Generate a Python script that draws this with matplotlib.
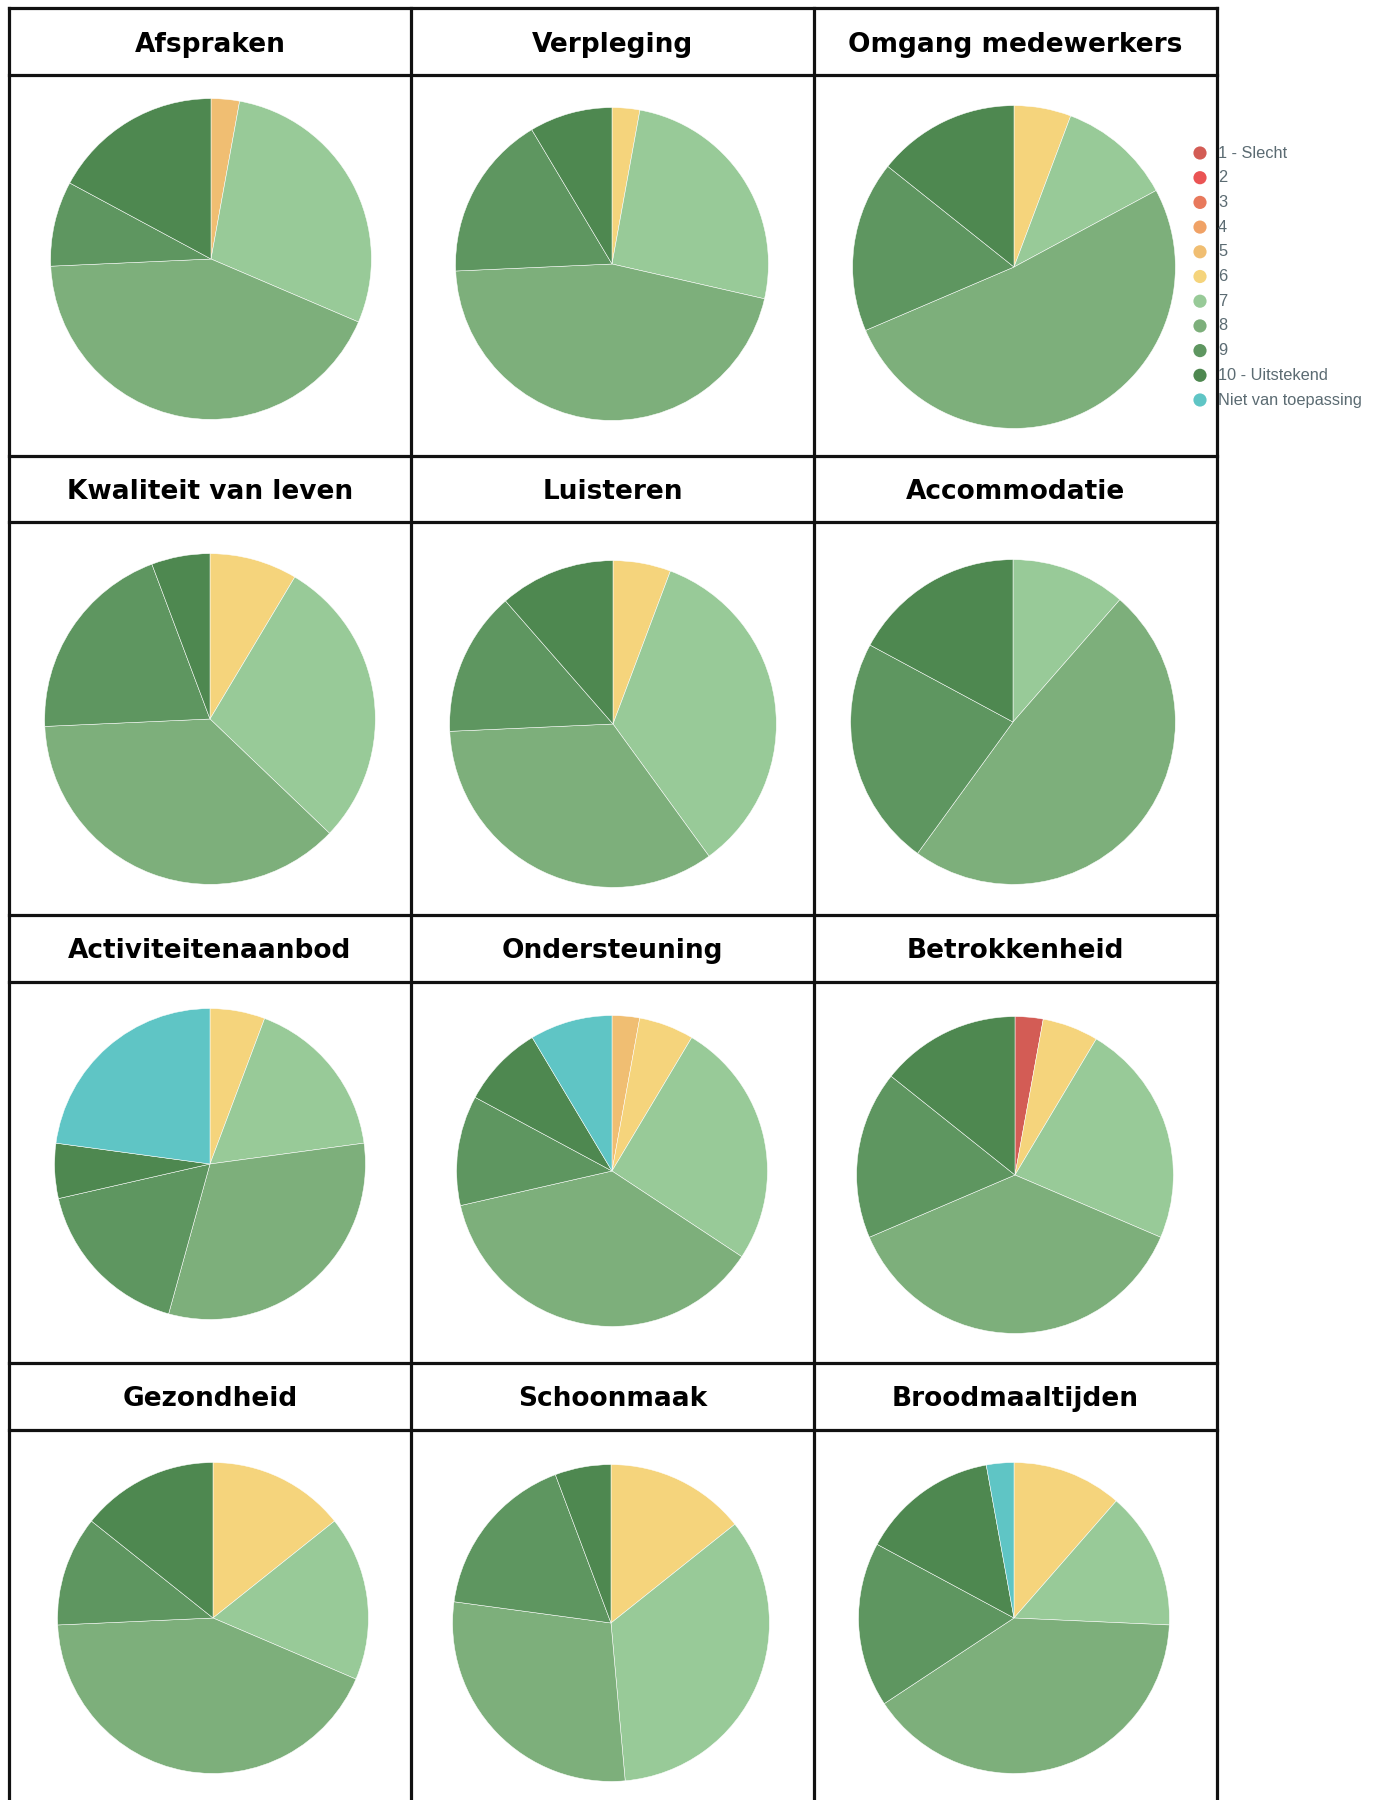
import matplotlib.pyplot as plt
from matplotlib.lines import Line2D

# answer categories (legend order = slice order, clockwise from 12 o'clock)
scores = ['1 - Slecht', '2', '3', '4', '5', '6', '7', '8', '9',
          '10 - Uitstekend', 'Niet van toepassing']
score_colors = ['#d35c55', '#ea5454', '#e8795c', '#f0a266', '#f0be72',
                '#f5d47c', '#98ca98', '#7daf7b', '#5e9660', '#4e8850',
                '#5fc5c5']

topics = ['Afspraken', 'Verpleging', 'Omgang medewerkers',
          'Kwaliteit van leven', 'Luisteren', 'Accommodatie',
          'Activiteitenaanbod', 'Ondersteuning', 'Betrokkenheid',
          'Gezondheid', 'Schoonmaak', 'Broodmaaltijden']

# number of answers per score           1  2  3  4  5  6  7   8   9 10 NvT
afspraken           = [0, 0, 0, 0, 1, 0, 10, 15, 3, 6, 0]
verpleging          = [0, 0, 0, 0, 0, 1, 9, 16, 6, 3, 0]
omgang_medewerkers  = [0, 0, 0, 0, 0, 2, 4, 18, 6, 5, 0]
kwaliteit_van_leven = [0, 0, 0, 0, 0, 3, 10, 13, 7, 2, 0]
luisteren           = [0, 0, 0, 0, 0, 2, 12, 12, 5, 4, 0]
accommodatie        = [0, 0, 0, 0, 0, 0, 4, 17, 8, 6, 0]
activiteitenaanbod  = [0, 0, 0, 0, 0, 2, 6, 11, 6, 2, 8]
ondersteuning       = [0, 0, 0, 0, 1, 2, 9, 13, 4, 3, 3]
betrokkenheid       = [1, 0, 0, 0, 0, 2, 8, 13, 6, 5, 0]
gezondheid          = [0, 0, 0, 0, 0, 5, 6, 15, 4, 5, 0]
schoonmaak          = [0, 0, 0, 0, 0, 5, 12, 10, 6, 2, 0]
broodmaaltijden     = [0, 0, 0, 0, 0, 4, 5, 14, 6, 5, 1]

counts = [afspraken, verpleging, omgang_medewerkers, kwaliteit_van_leven,
          luisteren, accommodatie, activiteitenaanbod, ondersteuning,
          betrokkenheid, gezondheid, schoonmaak, broodmaaltijden]

# layout in pixels
W, H = 1378, 1800
col_x = [9, 411, 814, 1217]
head_top = [8, 456, 915, 1363]
head_bot = [75, 522, 982, 1430]
pie_cx = [211, 612, 1014, 210, 613, 1013, 210, 612, 1015, 213, 611, 1014]
pie_cy = [259, 264, 267, 719, 724, 722, 1164, 1171, 1175, 1618, 1623, 1618]
pie_r = [162, 158, 163, 167, 165, 164, 157, 157, 160, 157, 160, 157]

fig = plt.figure(figsize=(W / 100, H / 100), dpi=100)
fig.patch.set_facecolor('white')

# overlay axes in pixel coordinates for grid, titles and legend
bg = fig.add_axes([0, 0, 1, 1])
bg.set_xlim(0, W)
bg.set_ylim(H, 0)
bg.axis('off')

for i, topic in enumerate(topics):
    r, c = divmod(i, 3)
    cx = (col_x[c] + col_x[c + 1]) / 2
    bg.text(cx, (head_top[r] + head_bot[r]) / 2 + 3, topic,
            ha='center', va='center', fontsize=19, fontweight='bold',
            family='DejaVu Sans', color='black')

    px, py, rad = pie_cx[i], pie_cy[i], pie_r[i]
    ax = fig.add_axes([(px - rad) / W, 1 - (py + rad) / H,
                       2 * rad / W, 2 * rad / H])
    vals = [v for v in counts[i] if v > 0]
    cols = [score_colors[k] for k, v in enumerate(counts[i]) if v > 0]
    ax.pie(vals, colors=cols, startangle=90, counterclock=False, radius=1,
           wedgeprops=dict(edgecolor='white', linewidth=0.35))
    ax.set_xlim(-1.01, 1.01)
    ax.set_ylim(-1.01, 1.01)
    ax.set_aspect('equal')
    ax.axis('off')

# table lines
lw = 2.3
for x in col_x:
    bg.add_line(Line2D([x, x], [head_top[0], H + 5], color='#111111',
                       lw=lw, zorder=5))
for y in head_top + head_bot:
    bg.add_line(Line2D([col_x[0], col_x[-1]], [y, y], color='#111111',
                       lw=lw, zorder=5))

# legend
leg_y0, leg_dy = 153, 24.7
for k, (lab, col) in enumerate(zip(scores, score_colors)):
    y = leg_y0 + k * leg_dy
    bg.scatter([1200], [y], s=90, color=col, edgecolors='none', zorder=6)
    bg.text(1218, y, lab, ha='left', va='center', fontsize=11.8,
            family='Liberation Sans', color='#5b6b72', zorder=6)

fig.savefig('out.png', dpi=100)
